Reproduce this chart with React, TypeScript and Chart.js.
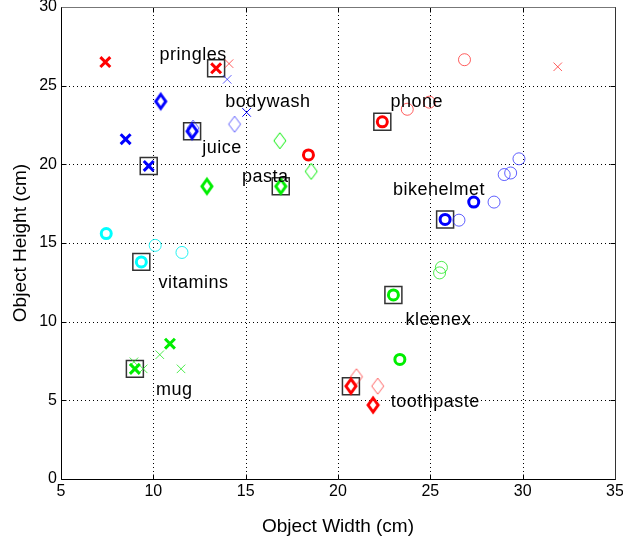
import React, { useEffect, useRef } from 'react';
import { Chart, registerables } from 'chart.js';

Chart.register(...registerables);

// ---- axes ----
const xTickValues = [5, 10, 15, 20, 25, 30, 35];
const yTickValues = [0, 5, 10, 15, 20, 25, 30];

// ---- object labels ----
const objectNames = ['pringles', 'bodywash', 'juice', 'pasta', 'phone', 'bikehelmet', 'vitamins', 'kleenex', 'mug', 'toothpaste'];
const labelX = [10.34, 13.9, 12.65, 14.8, 22.84, 22.98, 10.28, 23.66, 10.14, 22.86];
const labelY = [26.95, 23.96, 21.06, 19.21, 23.98, 18.37, 12.47, 10.1, 5.65, 4.91];

// ---- prototype (boxed) positions ----
const protoPoints: [number, number][] = [
  [13.4, 26.1], [9.75, 19.9], [12.1, 22.1], [16.9, 18.6], [22.4, 22.7],
  [25.8, 16.5], [9.35, 13.8], [23.0, 11.7], [9.0, 7.0], [20.7, 5.9],
];

// ---- bold markers ----
const redCrossBold: [number, number][] = [[7.4, 26.5], [13.4, 26.1]];
const blueCrossBold: [number, number][] = [[8.5, 21.6], [9.75, 19.9]];
const greenCrossBold: [number, number][] = [[10.9, 8.6], [9.0, 7.0]];
const blueDiamondBold: [number, number][] = [[10.4, 24.0], [12.1, 22.1]];
const greenDiamondBold: [number, number][] = [[12.9, 18.6], [16.9, 18.6]];
const redDiamondBold: [number, number][] = [[20.7, 5.9], [21.9, 4.7]];
const redCircleBold: [number, number][] = [[18.4, 20.6], [22.4, 22.7]];
const blueCircleBold: [number, number][] = [[27.35, 17.6], [25.8, 16.5]];
const greenCircleBold: [number, number][] = [[23.0, 11.7], [23.35, 7.6]];
const cyanCircleBold: [number, number][] = [[7.45, 15.6], [9.35, 13.8]];

// ---- thin markers ----
const redCrossThin: [number, number][] = [[14.1, 26.4], [31.9, 26.2]];
const blueCrossLight: [number, number][] = [[14.0, 25.4]];
const blueCrossThin: [number, number][] = [[15.05, 23.3]];
const greenCrossThin: [number, number][] = [[10.35, 7.9], [11.5, 7.0], [8.95, 7.45], [9.45, 7.0]];
const blueDiamondThin: [number, number][] = [[14.4, 22.55], [12.15, 22.3]];
const greenDiamondThin: [number, number][] = [[16.85, 21.5], [18.55, 19.55]];
const redDiamondThin: [number, number][] = [[21.0, 6.5], [22.15, 5.9]];
const redCircleThin: [number, number][] = [[26.85, 26.65], [23.75, 23.5], [24.95, 23.95]];
const blueCircleThin: [number, number][] = [[29.8, 20.35], [29.35, 19.45], [29.0, 19.35], [28.45, 17.6], [26.55, 16.45]];
const greenCircleThin: [number, number][] = [[25.6, 13.45], [25.5, 13.1]];
const cyanCircleThin: [number, number][] = [[10.1, 14.85], [11.55, 14.4]];

const RED = '#ff0000';
const BLUE = '#0000ff';
const GREEN = '#00ee00';
const CYAN = '#00ffff';
const RED_L = 'rgba(255,40,40,0.75)';
const BLUE_L = 'rgba(30,30,255,0.7)';
const GREEN_L = 'rgba(20,230,20,0.75)';
const CYAN_L = 'rgba(0,240,240,0.85)';

function makeDiamond(color: string, hw: number, hh: number, lw: number): HTMLCanvasElement {
  const c = document.createElement('canvas');
  const pad = Math.ceil(lw) + 1;
  c.width = hw * 2 + pad * 2;
  c.height = hh * 2 + pad * 2;
  const g = c.getContext('2d')!;
  const cx = c.width / 2;
  const cy = c.height / 2;
  g.strokeStyle = color;
  g.lineWidth = lw;
  g.lineJoin = 'miter';
  g.beginPath();
  g.moveTo(cx, cy - hh);
  g.lineTo(cx + hw, cy);
  g.lineTo(cx, cy + hh);
  g.lineTo(cx - hw, cy);
  g.closePath();
  g.stroke();
  return c;
}

const toXY = (pts: [number, number][]) => pts.map(([x, y]) => ({ x, y }));

const framePlugin = {
  id: 'matlabFrame',
  beforeDatasetsDraw(chart: any) {
    const { ctx, chartArea: a, scales } = chart;
    const xs = scales.x;
    const ys = scales.y;
    ctx.save();
    // dotted grid
    ctx.strokeStyle = '#000';
    ctx.lineWidth = 1;
    ctx.setLineDash([1, 3]);
    xTickValues.slice(1, -1).forEach((v) => {
      const px = Math.round(xs.getPixelForValue(v)) + 0.5;
      ctx.beginPath();
      ctx.moveTo(px, a.top);
      ctx.lineTo(px, a.bottom);
      ctx.stroke();
    });
    yTickValues.slice(1, -1).forEach((v) => {
      const py = Math.round(ys.getPixelForValue(v)) + 0.5;
      ctx.beginPath();
      ctx.moveTo(a.left, py);
      ctx.lineTo(a.right, py);
      ctx.stroke();
    });
    ctx.setLineDash([]);
    const L = Math.round(a.left) + 0.5;
    const R = Math.round(a.right) + 0.5;
    const T = Math.round(a.top) + 0.5;
    const B = Math.round(a.bottom) + 0.5;
    // tick marks inward
    ctx.strokeStyle = '#000';
    const tl = 5;
    xTickValues.forEach((v) => {
      const px = Math.round(xs.getPixelForValue(v)) + 0.5;
      ctx.beginPath();
      ctx.moveTo(px, B);
      ctx.lineTo(px, B - tl);
      ctx.moveTo(px, T);
      ctx.lineTo(px, T + tl);
      ctx.stroke();
    });
    yTickValues.forEach((v) => {
      const py = Math.round(ys.getPixelForValue(v)) + 0.5;
      ctx.beginPath();
      ctx.moveTo(L, py);
      ctx.lineTo(L + tl, py);
      ctx.moveTo(R, py);
      ctx.lineTo(R - tl, py);
      ctx.stroke();
    });
    // frame
    ctx.strokeStyle = '#777';
    ctx.beginPath();
    ctx.moveTo(L, T);
    ctx.lineTo(R, T);
    ctx.stroke();
    ctx.strokeStyle = '#333';
    ctx.beginPath();
    ctx.moveTo(R, T);
    ctx.lineTo(R, B);
    ctx.stroke();
    ctx.strokeStyle = '#000';
    ctx.beginPath();
    ctx.moveTo(L, T);
    ctx.lineTo(L, B);
    ctx.lineTo(R, B);
    ctx.stroke();
    ctx.restore();
  },
  afterDatasetsDraw(chart: any) {
    const { ctx, scales } = chart;
    ctx.save();
    ctx.fillStyle = '#000';
    ctx.font = '18px "Liberation Sans", Arial, sans-serif';
    try { (ctx as any).letterSpacing = '0.5px'; } catch (e) { /* ignore */ }
    ctx.textAlign = 'left';
    ctx.textBaseline = 'middle';
    objectNames.forEach((name, i) => {
      ctx.fillText(name, scales.x.getPixelForValue(labelX[i]), scales.y.getPixelForValue(labelY[i]));
    });
    ctx.restore();
  },
};

const zeroPad = (s: any) => {
  s.paddingLeft = 0;
  s.paddingRight = 0;
  s.paddingTop = 0;
  s.paddingBottom = 0;
};

export default function App() {
  const canvasRef = useRef<HTMLCanvasElement | null>(null);

  useEffect(() => {
    if (!canvasRef.current) return;
    const dBold = (c: string) => makeDiamond(c, 5, 7, 3);
    const dThin = (c: string) => makeDiamond(c, 6, 8, 1);

    const cross = (data: [number, number][], color: string, bold: boolean, order = 1) => ({
      data: toXY(data), pointStyle: 'crossRot', pointRadius: bold ? 7 : 6,
      pointBorderWidth: bold ? 3 : 1, pointBorderColor: color, pointBackgroundColor: color, order,
    });
    const circle = (data: [number, number][], color: string, bold: boolean, order = 1) => ({
      data: toXY(data), pointStyle: 'circle', pointRadius: bold ? 5 : 6,
      pointBorderWidth: bold ? 3 : 1, pointBorderColor: color, pointBackgroundColor: 'rgba(0,0,0,0)', order,
    });
    const diamond = (data: [number, number][], color: string, bold: boolean, order = 1) => ({
      data: toXY(data), pointStyle: bold ? dBold(color) : dThin(color), pointRadius: 6,
      pointBorderWidth: 0, pointBorderColor: color, pointBackgroundColor: color, order,
    });

    const datasets: any[] = [
      // bold (on top)
      cross(redCrossBold, RED, true, 1),
      cross(blueCrossBold, BLUE, true, 1),
      cross(greenCrossBold, GREEN, true, 1),
      diamond(blueDiamondBold, BLUE, true, 1),
      diamond(greenDiamondBold, GREEN, true, 1),
      diamond(redDiamondBold, RED, true, 1),
      circle(redCircleBold, RED, true, 1),
      circle(blueCircleBold, BLUE, true, 1),
      circle(greenCircleBold, GREEN, true, 1),
      circle(cyanCircleBold, CYAN, true, 1),
      // thin
      cross(redCrossThin, RED_L, false, 2),
      cross(blueCrossLight, BLUE_L, false, 2),
      cross(blueCrossThin, BLUE, false, 2),
      cross(greenCrossThin, GREEN_L, false, 2),
      diamond(blueDiamondThin, BLUE_L, false, 2),
      diamond(greenDiamondThin, GREEN, false, 2),
      diamond(redDiamondThin, RED_L, false, 2),
      circle(redCircleThin, RED_L, false, 2),
      circle(blueCircleThin, BLUE_L, false, 2),
      circle(greenCircleThin, GREEN_L, false, 2),
      circle(cyanCircleThin, CYAN_L, false, 2),
      // prototype boxes (bottom)
      {
        data: toXY(protoPoints), pointStyle: 'rect', pointRadius: 12,
        pointBorderWidth: 1.5, pointBorderColor: '#333', pointBackgroundColor: 'rgba(0,0,0,0)', order: 3,
      },
    ];

    const tickFont = { family: '"Liberation Sans", Arial, sans-serif', size: 16, lineHeight: 1.2 };
    const titleFont = { family: '"Liberation Sans", Arial, sans-serif', size: 19, lineHeight: 1.2 };

    const chart = new Chart(canvasRef.current, {
      type: 'scatter',
      data: { datasets },
      options: {
        animation: false,
        responsive: false,
        events: [],
        layout: { autoPadding: false, padding: { left: 0, right: 8, top: 7, bottom: 0 } },
        plugins: { legend: { display: false }, tooltip: { enabled: false } },
        elements: { point: { hoverRadius: 0 } },
        scales: {
          x: {
            type: 'linear', min: 5, max: 35,
            afterBuildTicks: (s: any) => { s.ticks = xTickValues.map((v) => ({ value: v })); },
            afterFit: (s: any) => { s.height = 69; zeroPad(s); },
            grid: { display: false, drawTicks: false },
            border: { display: false },
            ticks: { color: '#000', font: tickFont, padding: 3, maxRotation: 0, autoSkip: false },
            title: { display: true, text: 'Object Width (cm)', color: '#000', font: titleFont, padding: { top: 0, bottom: 10 } },
          },
          y: {
            type: 'linear', min: 0, max: 30,
            afterBuildTicks: (s: any) => { s.ticks = yTickValues.map((v) => ({ value: v })); },
            afterFit: (s: any) => { s.width = 61; zeroPad(s); },
            grid: { display: false, drawTicks: false },
            border: { display: false },
            ticks: { color: '#000', font: tickFont, padding: 4, autoSkip: false },
            title: { display: true, text: 'Object Height (cm)', color: '#000', font: titleFont, padding: { top: 9, bottom: 0 } },
          },
        },
      },
      plugins: [framePlugin],
    } as any);
    return () => chart.destroy();
  }, []);

  return (
    <div style={{ position: 'absolute', left: 0, top: 0, width: 623, height: 548, background: '#fff' }}>
      <canvas ref={canvasRef} width={623} height={548} style={{ display: 'block' }} />
    </div>
  );
}
